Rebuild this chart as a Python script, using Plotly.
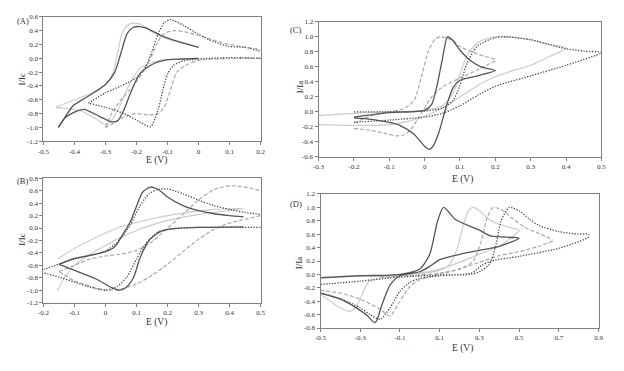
import plotly.graph_objects as go

# ---------------- data ----------------
# Panel A  (E in V, I/Ic)
A_solid_E = [-0.452, -0.43, -0.405, -0.36, -0.30, -0.27, -0.25, -0.23, -0.21, -0.19, -0.17, -0.12, -0.07, 0.0, None,
             0.0, -0.05, -0.10, -0.15, -0.19, -0.22, -0.24, -0.26, -0.28, -0.32, -0.37, -0.40, -0.43, -0.452]
A_solid_I = [-1.0, -0.85, -0.69, -0.56, -0.38, -0.20, 0.08, 0.36, 0.45, 0.46, 0.44, 0.33, 0.25, 0.16, None,
             0.0, -0.01, -0.02, -0.09, -0.23, -0.51, -0.74, -0.90, -0.92, -0.84, -0.74, -0.78, -0.86, -1.0]
A_light_E = [-0.46, -0.40, -0.34, -0.30, -0.275, -0.26, -0.245, -0.225, -0.205, -0.18, -0.15, -0.10, -0.05, 0.0, None,
             0.0, -0.10, -0.15, -0.19, -0.22, -0.25, -0.28, -0.30, -0.33, -0.38, -0.42, -0.46]
A_light_I = [-0.71, -0.60, -0.50, -0.38, -0.20, 0.10, 0.38, 0.49, 0.51, 0.48, 0.38, 0.28, 0.22, 0.16, None,
             0.0, -0.02, -0.06, -0.15, -0.35, -0.65, -0.90, -0.96, -0.88, -0.76, -0.73, -0.71]
A_dash_E = [-0.30, -0.28, -0.25, -0.21, -0.18, -0.15, -0.13, -0.11, -0.08, -0.04, 0.0, 0.05, 0.10, 0.15, 0.20, None,
            0.20, 0.10, 0.0, -0.04, -0.07, -0.09, -0.11, -0.13, -0.16, -0.20, -0.24, -0.27, -0.30]
A_dash_I = [-1.0, -0.80, -0.60, -0.40, -0.20, 0.05, 0.25, 0.36, 0.40, 0.38, 0.33, 0.26, 0.20, 0.16, 0.13, None,
            0.0, -0.005, -0.03, -0.10, -0.20, -0.45, -0.70, -0.80, -0.82, -0.80, -0.85, -0.93, -1.0]
A_dot_E = [-0.355, -0.30, -0.25, -0.20, -0.17, -0.15, -0.13, -0.11, -0.09, -0.05, 0.0, 0.05, 0.10, 0.15, 0.20, None,
           0.20, 0.10, 0.0, -0.05, -0.08, -0.10, -0.115, -0.13, -0.155, -0.19, -0.24, -0.30, -0.355]
A_dot_I = [-0.65, -0.50, -0.40, -0.28, -0.12, 0.10, 0.36, 0.52, 0.56, 0.48, 0.35, 0.24, 0.17, 0.16, 0.10, None,
           0.0, 0.01, -0.01, -0.04, -0.10, -0.23, -0.46, -0.74, -0.99, -0.92, -0.80, -0.71, -0.65]

# Panel B  (E in V, I/Ic)
B_solid_E = [-0.15, -0.10, -0.05, 0.0, 0.03, 0.05, 0.08, 0.10, 0.12, 0.145, 0.17, 0.20, 0.25, 0.30, 0.35, 0.40, 0.445, None,
             0.445, 0.30, 0.22, 0.18, 0.14, 0.11, 0.09, 0.065, 0.045, 0.02, -0.03, -0.10, -0.15]
B_solid_I = [-0.585, -0.49, -0.44, -0.38, -0.30, -0.15, 0.10, 0.35, 0.58, 0.66, 0.62, 0.50, 0.36, 0.28, 0.23, 0.20, 0.18, None,
             0.02, 0.01, -0.01, -0.05, -0.20, -0.50, -0.80, -0.96, -1.0, -0.96, -0.82, -0.68, -0.585]
B_light_E = [-0.155, -0.13, -0.10, -0.05, 0.0, 0.05, 0.10, 0.15, 0.20, 0.30, 0.445, 0.35, 0.25, 0.15, 0.05, 0.0, -0.05, -0.10, -0.155]
B_light_I = [-1.0, -0.78, -0.60, -0.42, -0.28, -0.15, -0.04, 0.05, 0.12, 0.22, 0.31, 0.30, 0.24, 0.15, 0.02, -0.08, -0.20, -0.33, -0.50]
B_dash_E = [-0.15, -0.10, -0.05, 0.0, 0.05, 0.10, 0.15, 0.20, 0.25, 0.30, 0.35, 0.40, 0.45, 0.50, None,
            0.50, 0.45, 0.40, 0.35, 0.30, 0.25, 0.20, 0.15, 0.10, 0.05, 0.0, -0.10, -0.15]
B_dash_I = [-0.70, -0.60, -0.50, -0.45, -0.42, -0.36, -0.22, 0.0, 0.22, 0.45, 0.62, 0.68, 0.66, 0.60, None,
            0.20, 0.14, 0.08, -0.02, -0.18, -0.38, -0.58, -0.76, -0.90, -0.98, -1.0, -0.85, -0.70]
B_dot_E = [-0.20, -0.15, -0.10, -0.05, 0.0, 0.04, 0.08, 0.11, 0.14, 0.17, 0.20, 0.25, 0.30, 0.35, 0.40, 0.45, 0.50, None,
           0.50, 0.40, 0.30, 0.22, 0.17, 0.13, 0.10, 0.07, 0.04, 0.0, -0.05, -0.10, -0.15, -0.20]
B_dot_I = [-0.67, -0.58, -0.50, -0.44, -0.37, -0.22, 0.05, 0.35, 0.55, 0.62, 0.63, 0.55, 0.45, 0.36, 0.30, 0.25, 0.22, None,
           0.01, 0.01, 0.01, -0.01, -0.06, -0.25, -0.50, -0.78, -0.93, -1.0, -0.95, -0.87, -0.79, -0.72]

# Panel C  (E in V, I/Ia)
C_solid_E = [-0.20, -0.10, 0.0, 0.02, 0.035, 0.05, 0.065, 0.08, 0.10, 0.13, 0.16, 0.20,
             0.15, 0.10, 0.08, 0.06, 0.04, 0.025, 0.013, 0.0, -0.03, -0.07, -0.10, -0.15, -0.20]
C_solid_I = [-0.07, -0.01, 0.02, 0.10, 0.35, 0.70, 1.0, 0.95, 0.82, 0.68, 0.60, 0.55,
             0.48, 0.42, 0.32, 0.05, -0.28, -0.45, -0.50, -0.46, -0.30, -0.18, -0.14, -0.10, -0.08]
C_light_E = [-0.30, -0.20, -0.10, 0.0, 0.05, 0.08, 0.10, 0.12, 0.15, 0.19, 0.23, 0.30, 0.35, 0.40,
             0.35, 0.30, 0.25, 0.20, 0.15, 0.10, 0.05, 0.0, -0.05, -0.10, -0.20, -0.30]
C_light_I = [-0.05, -0.02, 0.0, 0.02, 0.08, 0.25, 0.50, 0.75, 0.92, 0.99, 1.0, 0.96, 0.90, 0.85,
             0.73, 0.62, 0.55, 0.47, 0.35, 0.20, 0.05, -0.06, -0.13, -0.17, -0.18, -0.17]
C_dash_E = [-0.20, -0.15, -0.10, -0.06, -0.03, -0.01, 0.01, 0.03, 0.045, 0.08, 0.10, 0.15, 0.20, None,
            0.20, 0.15, 0.10, 0.05, 0.02, 0.0, -0.02, -0.04, -0.06, -0.08, -0.11, -0.15, -0.20]
C_dash_I = [-0.15, -0.05, 0.0, 0.04, 0.15, 0.45, 0.80, 0.97, 1.0, 0.95, 0.87, 0.77, 0.70, None,
            0.68, 0.56, 0.45, 0.33, 0.20, 0.05, -0.10, -0.24, -0.31, -0.32, -0.29, -0.25, -0.22]
C_dot_E = [-0.20, -0.10, 0.0, 0.05, 0.08, 0.10, 0.12, 0.15, 0.20, 0.23, 0.30, 0.35, 0.40, 0.45, 0.50,
           0.40, 0.30, 0.20, 0.15, 0.10, 0.05, 0.0, -0.10, -0.20]
C_dot_I = [0.0, 0.0, 0.01, 0.05, 0.15, 0.35, 0.65, 0.88, 0.99, 1.0, 0.96, 0.90, 0.84, 0.81, 0.79,
           0.62, 0.48, 0.34, 0.22, 0.08, -0.02, -0.07, -0.11, -0.14]

# Panel D  (E in V, I/Ia)
D_solid_E = [-0.50, -0.30, -0.10, 0.0, 0.05, 0.09, 0.12, 0.18, 0.30, 0.36, 0.50,
             0.40, 0.30, 0.20, 0.10, 0.05, 0.0, -0.10, -0.15, -0.19, -0.225, -0.27, -0.33, -0.40, -0.50]
D_solid_I = [-0.05, -0.02, 0.0, 0.08, 0.30, 0.80, 1.0, 0.82, 0.66, 0.57, 0.54,
             0.42, 0.36, 0.30, 0.22, 0.12, 0.04, -0.02, -0.16, -0.45, -0.72, -0.60, -0.48, -0.37, -0.28]
D_light_E = [-0.25, -0.10, 0.0, 0.10, 0.15, 0.19, 0.22, 0.25, 0.27, 0.30, 0.36, 0.45, 0.50,
             0.40, 0.30, 0.20, 0.10, 0.0, -0.10, -0.20, -0.26, -0.29, -0.32, -0.35, -0.40, -0.45, -0.50]
D_light_I = [-0.03, -0.01, 0.01, 0.06, 0.15, 0.40, 0.75, 0.97, 1.0, 0.95, 0.80, 0.70, 0.66,
             0.42, 0.30, 0.18, 0.08, 0.02, -0.02, -0.05, -0.12, -0.30, -0.48, -0.55, -0.50, -0.40, -0.30]
D_dash_E = [-0.20, 0.0, 0.10, 0.20, 0.27, 0.31, 0.34, 0.37, 0.42, 0.46, 0.53, 0.60, 0.67, None,
            0.67, 0.60, 0.50, 0.40, 0.30, 0.20, 0.10, 0.0, -0.05, -0.10, -0.15, -0.20, -0.30, -0.40, -0.50]
D_dash_I = [-0.04, -0.01, 0.02, 0.08, 0.20, 0.50, 0.85, 1.0, 0.95, 0.85, 0.70, 0.61, 0.52, None,
            0.50, 0.42, 0.34, 0.28, 0.18, 0.08, 0.0, -0.08, -0.18, -0.40, -0.62, -0.52, -0.37, -0.28, -0.24]
D_dot_E = [-0.50, -0.30, -0.10, 0.10, 0.25, 0.30, 0.35, 0.38, 0.41, 0.45, 0.50, 0.55, 0.60, 0.70, 0.80, 0.85,
           0.85, 0.70, 0.50, 0.36, 0.31, 0.26, 0.10, 0.0, -0.05, -0.10, -0.15, -0.20, -0.25, -0.30, -0.40, -0.50]
D_dot_I = [-0.15, -0.10, -0.04, -0.01, 0.0, 0.04, 0.15, 0.40, 0.80, 1.0, 0.95, 0.83, 0.73, 0.64, 0.60, 0.60,
           0.56, 0.39, 0.27, 0.20, 0.13, 0.02, -0.02, -0.06, -0.12, -0.25, -0.50, -0.67, -0.60, -0.50, -0.36, -0.28]

# tick values / labels
A_xticks = [-0.5, -0.4, -0.3, -0.2, -0.1, 0, 0.1, 0.2]
A_xlabels = ["-0.5", "-0.4", "-0.3", "-0.2", "-0.1", "0", "0.1", "0.2"]
A_yticks = [0.6, 0.4, 0.2, 0.0, -0.2, -0.4, -0.6, -0.8, -1.0, -1.2]
B_xticks = [-0.2, -0.1, 0, 0.1, 0.2, 0.3, 0.4, 0.5]
B_xlabels = ["-0.2", "-0.1", "0", "0.1", "0.2", "0.3", "0.4", "0.5"]
B_yticks = [0.8, 0.6, 0.4, 0.2, 0.0, -0.2, -0.4, -0.6, -0.8, -1.0, -1.2]
C_xticks = [-0.3, -0.2, -0.1, 0, 0.1, 0.2, 0.3, 0.4, 0.5]
C_xlabels = ["-0.3", "-0.2", "-0.1", "0", "0.1", "0.2", "0.3", "0.4", "0.5"]
C_yticks = [1.2, 1.0, 0.8, 0.6, 0.4, 0.2, 0.0, -0.2, -0.4, -0.6]
D_xticks = [-0.5, -0.3, -0.1, 0.1, 0.3, 0.5, 0.7, 0.9]
D_xlabels = ["-0.5", "-0.3", "-0.1", "0.1", "0.3", "0.5", "0.7", "0.9"]
D_yticks = [1.2, 1.0, 0.8, 0.6, 0.4, 0.2, 0.0, -0.2, -0.4, -0.6, -0.8]

# ---------------- figure ----------------
W, H = 624, 371
FONT = "Liberation Serif, Times New Roman, serif"

STYLES = {
    "solid": dict(color="#555555", width=1.3, dash="solid"),
    "light": dict(color="#cccccc", width=1.2, dash="solid"),
    "dash": dict(color="#a9a9a9", width=1.2, dash="4px,2px"),
    "dot": dict(color="#4a4a4a", width=1.3, dash="1.3px,1.5px"),
}

panels = [
    ("A", "", {"light": (A_light_E, A_light_I), "dash": (A_dash_E, A_dash_I), "dot": (A_dot_E, A_dot_I),
               "solid": (A_solid_E, A_solid_I)},
     [-0.5, 0.2], [-1.2, 0.6], A_xticks, A_xlabels, A_yticks, (30, 251, 5, 132)),
    ("B", "2", {"light": (B_light_E, B_light_I), "dash": (B_dash_E, B_dash_I), "dot": (B_dot_E, B_dot_I),
                "solid": (B_solid_E, B_solid_I)},
     [-0.2, 0.5], [-1.2, 0.8], B_xticks, B_xlabels, B_yticks, (30, 251, 170, 297)),
    ("C", "3", {"light": (C_light_E, C_light_I), "dash": (C_dash_E, C_dash_I), "dot": (C_dot_E, C_dot_I),
                "solid": (C_solid_E, C_solid_I)},
     [-0.3, 0.5], [-0.6, 1.2], C_xticks, C_xlabels, C_yticks, (310, 598, 10, 148)),
    ("D", "4", {"light": (D_light_E, D_light_I), "dash": (D_dash_E, D_dash_I), "dot": (D_dot_E, D_dot_I),
                "solid": (D_solid_E, D_solid_I)},
     [-0.5, 0.9], [-0.8, 1.2], D_xticks, D_xlabels, D_yticks, (312, 595, 186, 323)),
]

fig = go.Figure()
layout = dict(width=W, height=H, margin=dict(l=0, r=0, t=0, b=0), showlegend=False,
              paper_bgcolor="white", plot_bgcolor="white", font=dict(family=FONT, color="#333333"))

for name, ax, data, xr, yr, xt, xl, yt, (px0, px1, py0, py1) in panels:
    for key, (xs, ys) in data.items():
        st = STYLES[key]
        fig.add_trace(go.Scatter(x=xs, y=ys, mode="lines", xaxis="x" + ax, yaxis="y" + ax,
                                 line=dict(color=st["color"], width=st["width"], dash=st["dash"],
                                           shape="spline", smoothing=0.7),
                                 connectgaps=False, hoverinfo="skip"))
    common = dict(showgrid=False, zeroline=False, showline=True, mirror=True, linecolor="#808080",
                  linewidth=1, ticks="outside", ticklen=3, tickcolor="#808080",
                  tickfont=dict(family=FONT, size=7, color="#333333"))
    layout["xaxis" + ax] = dict(common, domain=[px0 / W, px1 / W], range=xr, anchor="y" + ax,
                                tickmode="array", tickvals=xt, ticktext=xl)
    layout["yaxis" + ax] = dict(common, domain=[1 - py1 / H, 1 - py0 / H], range=yr, anchor="x" + ax,
                                tickmode="array", tickvals=yt,
                                ticktext=[("%.1f" % v).replace("-0.0", "0.0") for v in yt])

ann = []
def txt(x, y, s, size=9, angle=0):
    ann.append(dict(x=x / W, y=1 - y / H, xref="paper", yref="paper", text=s, showarrow=False,
                    textangle=angle, font=dict(family=FONT, size=size, color="#333333"),
                    xanchor="center", yanchor="middle"))

txt(9, 9, "(A)", 8.5)
txt(9, 173, "(B)", 8.5)
txt(287, 18, "(C)", 8.5)
txt(287, 196, "(D)", 8.5)
txt(8, 68, "I/Ic", 9, -90)
txt(8, 232, "I/Ic", 9, -90)
txt(291, 76, "I/Ia", 9, -90)
txt(291, 256, "I/Ia", 9, -90)
txt(145, 152, "E (V)", 9.5)
txt(145, 317, "E (V)", 9.5)
txt(457, 171, "E (V)", 9.5)
txt(457, 344, "E (V)", 9.5)
layout["annotations"] = ann

fig.update_layout(**layout)
fig.write_html("out.html")
